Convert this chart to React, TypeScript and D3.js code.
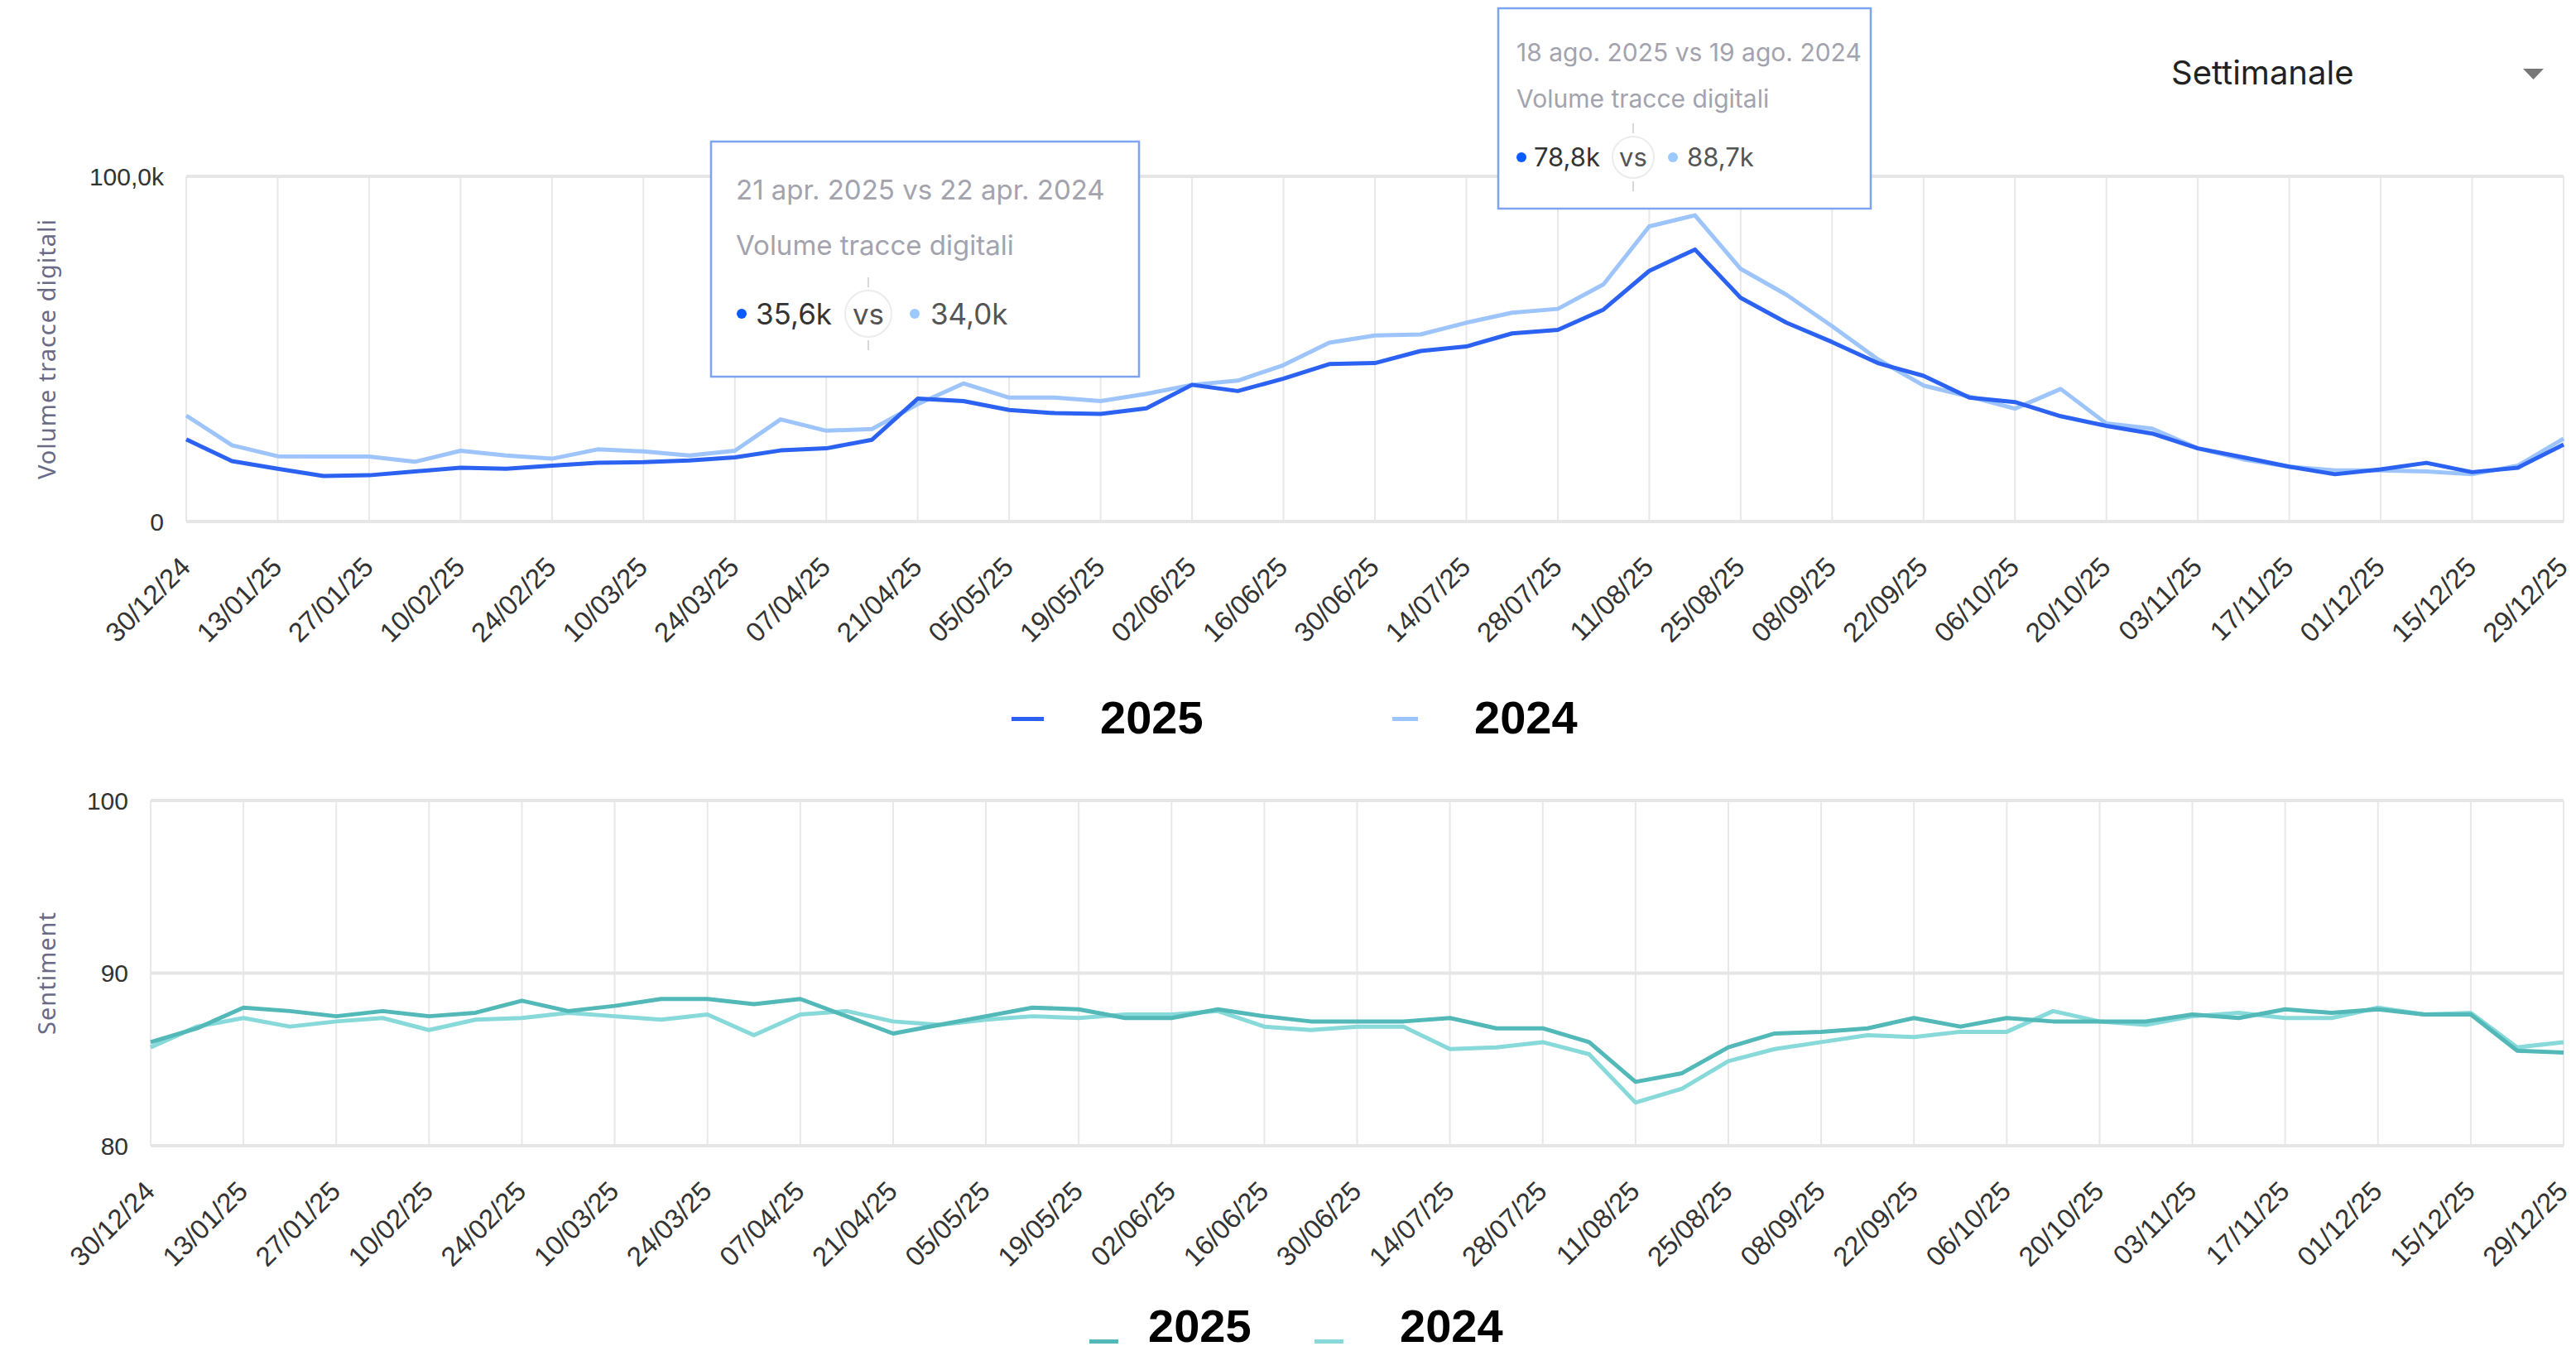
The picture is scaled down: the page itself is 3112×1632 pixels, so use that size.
import * as d3 from "d3";

// 53 weekly points, 30/12/24 .. 29/12/25, a label every two weeks
const tickLabels = [
  "30/12/24", "13/01/25", "27/01/25", "10/02/25", "24/02/25", "10/03/25", "24/03/25",
  "07/04/25", "21/04/25", "05/05/25", "19/05/25", "02/06/25", "16/06/25", "30/06/25",
  "14/07/25", "28/07/25", "11/08/25", "25/08/25", "08/09/25", "22/09/25", "06/10/25",
  "20/10/25", "03/11/25", "17/11/25", "01/12/25", "15/12/25", "29/12/25",
];

// volume, thousands
const volume2025 = [
  23.8, 17.5, 15.3, 13.2, 13.4, 14.5, 15.6, 15.3, 16.2, 17.0, 17.2, 17.7, 18.6, 20.6,
  21.2, 23.7, 35.6, 34.9, 32.3, 31.4, 31.2, 32.8, 39.6, 37.8, 41.4, 45.6, 45.9, 49.4,
  50.7, 54.5, 55.5, 61.4, 72.6, 78.8, 64.8, 57.6, 52.0, 45.9, 42.2, 35.9, 34.6, 30.5,
  27.7, 25.5, 21.2, 18.6, 15.9, 13.7, 15.1, 17.0, 14.3, 15.6, 22.3,
];
const volume2024 = [
  30.7, 22.1, 18.9, 18.8, 18.8, 17.3, 20.5, 19.1, 18.2, 20.9, 20.3, 19.1, 20.5, 29.6,
  26.3, 26.8, 34.0, 40.0, 35.9, 35.9, 34.9, 37.0, 39.6, 40.8, 45.3, 51.8, 53.9, 54.2,
  57.6, 60.5, 61.6, 68.7, 85.5, 88.7, 73.2, 65.7, 56.6, 47.0, 39.4, 36.2, 32.7, 38.4,
  28.4, 26.9, 21.2, 18.0, 15.9, 14.8, 14.8, 14.5, 13.7, 16.2, 24.0,
];

const sentiment2025 = [
  86.0, 86.8, 88.0, 87.8, 87.5, 87.8, 87.5, 87.7, 88.4, 87.8, 88.1, 88.5, 88.5, 88.2,
  88.5, 87.5, 86.5, 87.0, 87.5, 88.0, 87.9, 87.4, 87.4, 87.9, 87.5, 87.2, 87.2, 87.2,
  87.4, 86.8, 86.8, 86.0, 83.7, 84.2, 85.7, 86.5, 86.6, 86.8, 87.4, 86.9, 87.4, 87.2,
  87.2, 87.2, 87.6, 87.4, 87.9, 87.7, 87.9, 87.6, 87.6, 85.5, 85.4,
];
const sentiment2024 = [
  85.7, 86.9, 87.4, 86.9, 87.2, 87.4, 86.7, 87.3, 87.4, 87.7, 87.5, 87.3, 87.6, 86.4,
  87.6, 87.8, 87.2, 87.0, 87.3, 87.5, 87.4, 87.6, 87.6, 87.8, 86.9, 86.7, 86.9, 86.9,
  85.6, 85.7, 86.0, 85.3, 82.5, 83.3, 84.9, 85.6, 86.0, 86.4, 86.3, 86.6, 86.6, 87.8,
  87.2, 87.0, 87.5, 87.7, 87.4, 87.4, 88.0, 87.6, 87.7, 85.7, 86.0,
];

const volumeTicks = [0, 100];
const volumeTickLabels = ["0", "100,0k"];
const sentimentTicks = [80, 90, 100];
const sentimentTickLabels = ["80", "90", "100"];
const years = ["2025", "2024"];

const W = 3112;
const H = 1632;
const TICK_FONT = "'Liberation Sans', Arial, sans-serif";
const UI_FONT = "Inter, 'Noto Sans', sans-serif";
const TITLE_FONT = "'Noto Sans', 'Open Sans', sans-serif";
const GRID = "#e8e8e8";

const BLUE = "#2b62f2";
const LIGHT_BLUE = "#9dc4fb";
const TEAL = "#52b8b8";
const LIGHT_TEAL = "#88d9d9";

function Chart({ left, right, top, bottom, domain, ticks, tickText, labelX, title, series, colors }) {
  const x = d3.scaleLinear().domain([0, volume2025.length - 1]).range([left, right]);
  const y = d3.scaleLinear().domain(domain).range([bottom, top]);
  const line = d3.line<number>().x((_, i) => x(i)).y((d) => y(d));
  return (
    <g>
      {tickLabels.map((t, k) => (
        <line key={t} x1={x(k * 2)} x2={x(k * 2)} y1={top} y2={bottom} stroke={GRID} strokeWidth={2} />
      ))}
      {ticks.map((t, k) => (
        <g key={t}>
          <line x1={left} x2={right} y1={y(t)} y2={y(t)} stroke="#e6e6e6" strokeWidth={4} />
          <text x={labelX} y={y(t)} dy="0.35em" textAnchor="end" fontFamily={TICK_FONT} fontSize={30} fill="#333">
            {tickText[k]}
          </text>
        </g>
      ))}
      {tickLabels.map((t, k) => (
        <text
          key={t}
          transform={`translate(${x(k * 2) + 7},${bottom + 57}) rotate(-45)`}
          textAnchor="end"
          fontFamily={TICK_FONT}
          fontSize={33}
          fill="#333"
        >
          {t}
        </text>
      ))}
      <text
        transform={`translate(67,${(top + bottom) / 2}) rotate(-90)`}
        textAnchor="middle"
        fontFamily={TITLE_FONT}
        fontSize={29}
        letterSpacing={1}
        fill="#6b6a86"
      >
        {title}
      </text>
      {[...series].reverse().map((s, k) => (
        <path
          key={k}
          d={line(s) || ""}
          fill="none"
          stroke={colors[series.length - 1 - k]}
          strokeWidth={5}
          strokeLinejoin="round"
        />
      ))}
    </g>
  );
}

function Tooltip({ x, y, w, h, title, sub, v1, v2, fs, rfs, tx, titleY, subY, rowY, dotY, d1, t1, cx, r, d2, t2 }) {
  return (
    <g transform={`translate(${x},${y})`}>
      <rect x={0} y={0} width={w} height={h} fill="#fff" stroke="#7ea3f0" strokeWidth={2.5} />
      <text x={tx} y={titleY} fontFamily={UI_FONT} fontSize={fs} fill="#a3a3ae">{title}</text>
      <text x={tx} y={subY} fontFamily={UI_FONT} fontSize={fs} fill="#a3a3ae">{sub}</text>
      <circle cx={d1} cy={dotY} r={6} fill="#0b5cff" />
      <text x={t1} y={rowY} fontFamily={UI_FONT} fontSize={rfs} fill="#333">{v1}</text>
      <line x1={cx} x2={cx} y1={dotY - r - 16} y2={dotY - r - 4} stroke="#d8d8d8" strokeWidth={2} />
      <line x1={cx} x2={cx} y1={dotY + r + 4} y2={dotY + r + 16} stroke="#d8d8d8" strokeWidth={2} />
      <circle cx={cx} cy={dotY} r={r} fill="#fff" stroke="#ececec" strokeWidth={2} />
      <text x={cx} y={rowY} textAnchor="middle" fontFamily={UI_FONT} fontSize={rfs} fill="#555">vs</text>
      <circle cx={d2} cy={dotY} r={6} fill="#9ccaff" />
      <text x={t2} y={rowY} fontFamily={UI_FONT} fontSize={rfs} fill="#555">{v2}</text>
    </g>
  );
}

function Legend({ items, colors, markY, markW, markH, y }) {
  return (
    <g>
      {items.map((it, k) => (
        <g key={years[k]}>
          <rect x={it.m} y={markY} width={markW[k]} height={markH} fill={colors[k]} />
          <text x={it.t} y={y} fontFamily={TICK_FONT} fontWeight="bold" fontSize={56} fill="#000">
            {years[k]}
          </text>
        </g>
      ))}
    </g>
  );
}

export default function App() {
  return (
    <svg
      width={W}
      height={H}
      viewBox={`0 0 ${W} ${H}`}
      style={{ position: "absolute", left: 0, top: 0, display: "block", background: "#fff" }}
    >
      <Chart
        left={225}
        right={3097}
        top={213}
        bottom={630}
        domain={[0, 100]}
        ticks={volumeTicks}
        tickText={volumeTickLabels}
        labelX={198}
        title="Volume tracce digitali"
        series={[volume2025, volume2024]}
        colors={[BLUE, LIGHT_BLUE]}
      />
      <Legend
        items={[{ m: 1222, t: 1329 }, { m: 1682, t: 1781 }]}
        colors={[BLUE, LIGHT_BLUE]}
        markY={866}
        markW={[39, 31]}
        markH={5}
        y={886}
      />
      <Chart
        left={182}
        right={3097}
        top={967}
        bottom={1384}
        domain={[80, 100]}
        ticks={sentimentTicks}
        tickText={sentimentTickLabels}
        labelX={155}
        title="Sentiment"
        series={[sentiment2025, sentiment2024]}
        colors={[TEAL, LIGHT_TEAL]}
      />
      <Legend
        items={[{ m: 1316, t: 1387 }, { m: 1588, t: 1691 }]}
        colors={[TEAL, LIGHT_TEAL]}
        markY={1618}
        markW={[35, 35]}
        markH={5}
        y={1621}
      />
      <Tooltip
        x={859} y={171} w={517} h={284}
        title="21 apr. 2025 vs 22 apr. 2024" sub="Volume tracce digitali"
        v1="35,6k" v2="34,0k"
        fs={33} rfs={35} tx={30} titleY={70} subY={137} rowY={221} dotY={208}
        d1={37} t1={54} cx={190} r={28} d2={246} t2={265}
      />
      <Tooltip
        x={1810} y={10} w={450} h={242}
        title="18 ago. 2025 vs 19 ago. 2024" sub="Volume tracce digitali"
        v1="78,8k" v2="88,7k"
        fs={30} rfs={31} tx={22} titleY={64} subY={120} rowY={191} dotY={180}
        d1={28} t1={43} cx={163} r={25} d2={211} t2={228}
      />
      <text x={2623} y={102} fontFamily={UI_FONT} fontSize={40} fill="#222">Settimanale</text>
      <path d="M3048,83 L3073,83 L3060.5,96 Z" fill="#777" />
    </svg>
  );
}
